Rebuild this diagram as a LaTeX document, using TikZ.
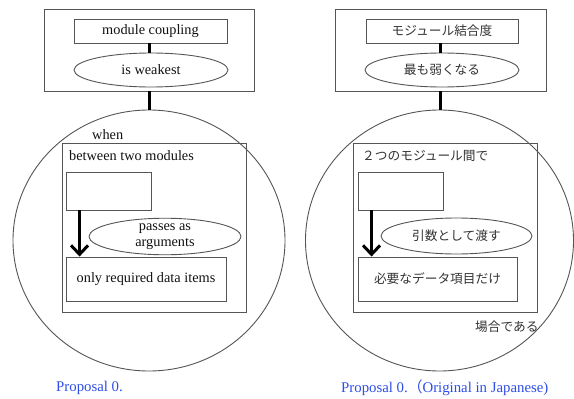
\documentclass[tikz,border=0pt]{standalone}
\usepackage{fontspec}
\setmainfont{Liberation Serif}
\newfontfamily\cjk{Noto Sans CJK JP}
\usetikzlibrary{shapes.geometric,arrows.meta,calc}
\definecolor{edge}{HTML}{555555}
\definecolor{txt}{HTML}{111111}
\definecolor{jtxt}{HTML}{333333}
\definecolor{capblue}{HTML}{2E4EEA}
\begin{document}
\begin{tikzpicture}[x=1pt,y=-1pt,
  box/.style={draw=edge,line width=0.9pt,rectangle,inner sep=0pt,font=\fontsize{14.3}{15}\selectfont,text=txt},
  oval/.style={draw=edge,line width=0.9pt,ellipse,inner sep=0pt,font=\fontsize{14.3}{15}\selectfont,text=txt,align=center},
  jbox/.style={box,font=\cjk\fontsize{12.7}{14}\selectfont,text=jtxt},
  joval/.style={oval,font=\cjk\fontsize{12.7}{14}\selectfont,text=jtxt},
  lbl/.style={inner sep=0pt,font=\fontsize{14.3}{15}\selectfont,text=txt,anchor=west},
  jlbl/.style={inner sep=0pt,font=\cjk\fontsize{12.7}{14}\selectfont,text=jtxt,anchor=west},
  captext/.style={inner sep=0pt,font=\fontsize{14.8}{16}\selectfont,text=capblue,anchor=west},
  link/.style={line width=3pt,black},
  arr/.style={line width=3pt,black,-{Straight Barb[length=9pt,width=17pt,line width=3pt]}}
]
\useasboundingbox (0,0) rectangle (574,399);
\fill[white] (0,0) rectangle (574,399);

% ---------- Left panel ----------
\node[box,minimum width=210pt,minimum height=82pt] (outerL) at (149,50) {};
\node[box,minimum width=153pt,minimum height=24pt] (titleL) at (150.5,31) {module coupling};
\node[oval,minimum width=154pt,minimum height=34pt] (ellL) at (151,70) {is weakest};
\node[draw=edge,line width=0.9pt,ellipse,inner sep=0pt,minimum width=272pt,minimum height=261pt] (circL) at (149,240.5) {};
\draw[link] (titleL.south -| 149,0) -- (ellL.north -| 149,0);
\draw[link] (outerL.south) -- (circL.north);
\node[lbl] (whenL) at (92,135) {when};
\node[box,minimum width=184pt,minimum height=169pt] (innerL) at (154,227.5) {};
\node[lbl] (btwL) at (69,156) {between two modules};
\node[box,minimum width=85pt,minimum height=38pt] (emptyL) at (108.5,191) {};
\node[box,minimum width=160pt,minimum height=44pt] (dataL) at (146,279) {only required data items};
\node[oval,minimum width=152pt,minimum height=36pt,font=\fontsize{14.3}{16}\selectfont] (passL) at (165,236.5) {passes as\\arguments};
\draw[arr] ($(emptyL.south west)+(14,0)$) -- ($(dataL.north west)+(14,0)$);
\node[captext] (capL) at (56,388) {Proposal 0.};

% ---------- Right panel ----------
\node[box,minimum width=211pt,minimum height=82pt] (outerR) at (440.5,50) {};
\node[jbox,minimum width=152pt,minimum height=24pt] (titleR) at (442,31) {モジュール結合度};
\node[joval,minimum width=154pt,minimum height=34pt] (ellR) at (442,70) {最も弱くなる};
\node[draw=edge,line width=0.9pt,ellipse,inner sep=0pt,minimum width=268pt,minimum height=261pt] (circR) at (439.5,240.5) {};
\draw[link] (titleR.south -| 440,0) -- (ellR.north -| 440,0);
\draw[link] (outerR.south -| 440,0) -- (circR.north -| 440,0);
\node[box,minimum width=184pt,minimum height=169pt] (innerR) at (445,227.5) {};
\node[jlbl] (btwR) at (362,156) {２つのモジュール間で};
\node[box,minimum width=85pt,minimum height=38pt] (emptyR) at (400.5,191) {};
\node[jbox,minimum width=159pt,minimum height=44pt] (dataR) at (437.5,279) {必要なデータ項目だけ};
\node[joval,minimum width=151pt,minimum height=36pt] (passR) at (456.5,236) {引数として渡す};
\draw[arr] ($(emptyR.south west)+(14,0)$) -- ($(dataR.north west)+(14,0)$);
\node[jlbl] (caseR) at (475,327) {場合である};
\node[captext] (capR) at (341,388) {Proposal 0.{\cjk （}Original in Japanese)};
\end{tikzpicture}
\end{document}
